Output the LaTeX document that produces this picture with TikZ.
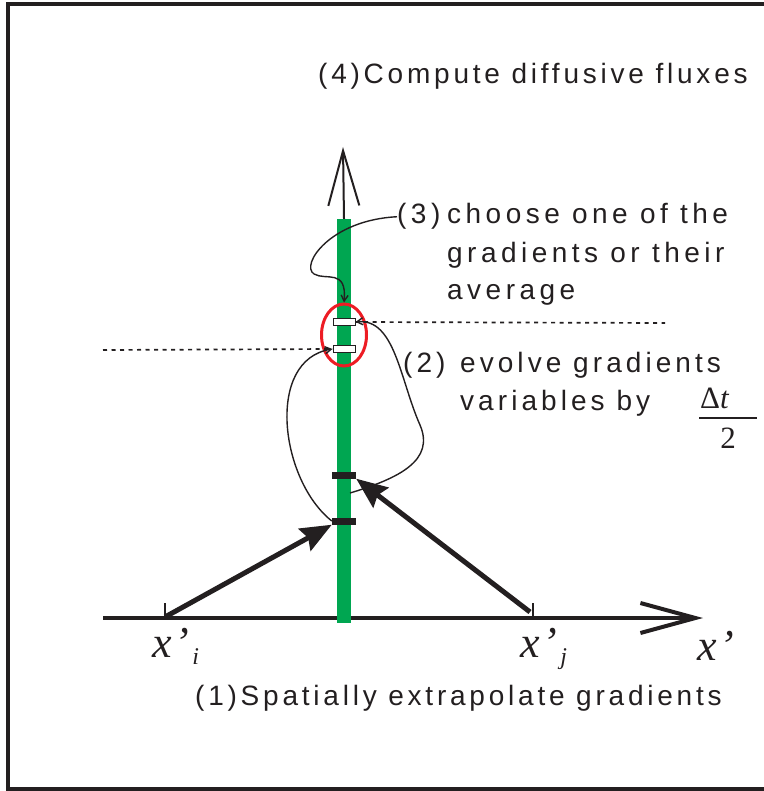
\documentclass[tikz,border=0pt]{standalone}
\usepackage{fontspec}
\usetikzlibrary{arrows.meta,shapes.geometric}
\newfontfamily\lab{Liberation Sans}[LetterSpace=13.5]
\newfontfamily\labw{Liberation Sans}[LetterSpace=16]
\newfontfamily\labm{Liberation Sans}[LetterSpace=14.5]
\newfontfamily\ser{Liberation Serif}
\definecolor{gbar}{RGB}{0,166,81}
\definecolor{rring}{RGB}{237,28,36}
\definecolor{ink}{RGB}{35,31,32}
\begin{document}
\begin{tikzpicture}[x=1pt,y=-1pt,
  lbl/.style={font=\lab\fontsize{28}{34}\selectfont, inner sep=0pt, anchor=base west, text=ink},
  lblw/.style={font=\labw\fontsize{28}{34}\selectfont, inner sep=0pt, anchor=base west, text=ink},
  lblm/.style={font=\labm\fontsize{28}{34}\selectfont, inner sep=0pt, anchor=base west, text=ink},
  serlbl/.style={font=\ser\itshape\fontsize{44}{44}\selectfont, inner sep=0pt, anchor=base west, text=ink},
  thinline/.style={draw=ink, line width=1.4pt},
  thick arrow/.style={draw=ink, line width=5pt, -{Stealth[length=31pt,width=25pt,inset=4pt]}},
  blackbar/.style={fill=ink, minimum width=24pt, minimum height=7pt, inner sep=0pt},
  whitebox/.style={draw=ink, fill=white, line width=1pt, minimum width=22pt, minimum height=7pt, inner sep=0pt},
  dashline/.style={draw=ink, line width=1.7pt, dash pattern=on 4pt off 4.5pt}
]
\useasboundingbox (0,0) rectangle (763,791);
% frame
\draw[ink, line width=4pt] (770,4) -- (8,4) -- (8,789) -- (770,789);
% axes coordinates
\coordinate (hstart) at (103,618);
\coordinate (hend) at (703,618);
\coordinate (vtip) at (343,147);
\coordinate (xi) at (165,617);
\coordinate (xj) at (530,612);
\coordinate (ti) at (165,603);
\coordinate (tj) at (533,603);
\coordinate (ti0) at (165,618);
\coordinate (tj0) at (533,618);
% horizontal axis
\draw[ink, line width=4pt, -{Straight Barb[length=55pt,width=30pt]}] (hstart) -- (hend);
\draw[ink, line width=1.5pt] (ti0) -- (ti);
\draw[ink, line width=1.5pt] (tj0) -- (tj);
% green bar
\node[fill=gbar, minimum width=14pt, minimum height=404pt, inner sep=0pt] (green) at (344,421) {};
\draw[ink, line width=2pt, -{Straight Barb[length=55pt,width=31pt]}] (green.north) -- (vtip);
% bars
\node[blackbar] (b1) at (344,521) {};
\node[blackbar] (b2) at (344,475) {};
\node[ellipse, draw=rring, line width=3pt, minimum width=45pt, minimum height=62pt, inner sep=0pt] (ell) at (344,335) {};
\node[whitebox] (w1) at (344,322) {};
\node[whitebox] (w2) at (344,349) {};
% dashed lines
\coordinate (d1) at (665,323);
\coordinate (d2) at (103,350);
\draw[dashline] (w1.east) -- (d1);
\draw[dashline] (d2) -- (w2.west);
% thick arrows
\draw[thick arrow] (xi) -- (b1.south west);
\draw[thick arrow] (xj) -- (b2.south east);
% labels
\node[lbl] at (318,84) {(4)Compute diffusive fluxes};
\node[lblw] (l3) at (397,224) {(3)};
\node[lblw] at (447,224) {choose one of the};
\node[lblw] at (447,262) {gradients or their};
\node[lblw] at (447,299) {average};
\node[lblm] (l2) at (403,372) {(2)};
\node[lblm] at (460,372) {evolve gradients};
\node[lblm] at (460,410) {variables by};
\node[lbl] at (195,705) {(1)Spatially extrapolate gradients};
% fraction
\node[font=\ser\fontsize{31}{31}\selectfont, inner sep=0pt, anchor=base west, text=ink] (dt) at (700,408) {Δ\textit{t}};
\coordinate (fb1) at (699,418);
\coordinate (fb2) at (757,418);
\draw[ink, line width=1.5pt] (fb1) -- (fb2);
\node[font=\ser\fontsize{31}{31}\selectfont, inner sep=0pt, anchor=base, text=ink] (two) at (728,448) {2};
% axis labels
\node[serlbl] (lxi) at (152,657) {x\kern3pt’\kern3pt\raisebox{-7pt}{\fontsize{24}{24}\selectfont i}};
\node[serlbl] (lxj) at (520,657) {x\kern3pt’\kern3pt\raisebox{-7pt}{\fontsize{24}{24}\selectfont j}};
\node[serlbl] (lx) at (697,660) {x\kern3pt’};
% thin curves
\coordinate (gr) at (350,493);
\draw[thinline, -{Straight Barb[length=6pt,width=7pt]}] (l3.west) .. controls (330,220) and (300,265) .. (314,274) .. controls (326,281) and (347,268) .. (ell.north);
\draw[thinline, -{Straight Barb[length=6pt,width=7pt]}] (b1.west) .. controls (280,480) and (265,360) .. (w2.west);
\draw[thinline, -{Straight Barb[length=6pt,width=7pt]}] (gr) .. controls (400,478) and (435,460) .. (420,425) .. controls (400,380) and (395,318) .. (w1.east);
\end{tikzpicture}
\end{document}
